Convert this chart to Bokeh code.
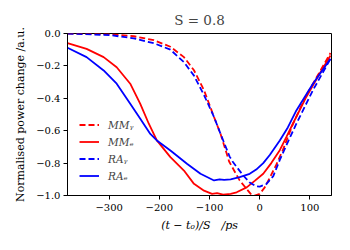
from bokeh.plotting import figure
from bokeh.models import Range1d, FixedTicker, CustomJSTickFormatter, Legend, LegendItem
from bokeh.embed import file_html
from bokeh.resources import INLINE

# ---- data ----
mm_e_x = [-383, -345, -311, -285, -258, -238, -221, -205, -178, -151, -131, -111, -95, -85, -73, -58, -46, -26, -10, 7, 23, 40, 53, 66, 93, 119, 141]
mm_e_y = [-0.06, -0.095, -0.146, -0.208, -0.31, -0.434, -0.557, -0.66, -0.763, -0.846, -0.928, -0.97, -0.99, -0.985, -0.995, -0.99, -0.98, -0.95, -0.91, -0.866, -0.80, -0.72, -0.64, -0.557, -0.39, -0.25, -0.136]

ra_e_x = [-383, -345, -311, -285, -258, -238, -218, -205, -178, -145, -118, -91, -80, -71, -58, -40, -20, -7, 7, 20, 40, 56, 73, 106, 141]
ra_e_y = [-0.088, -0.146, -0.228, -0.31, -0.434, -0.527, -0.62, -0.66, -0.722, -0.804, -0.866, -0.907, -0.90, -0.903, -0.90, -0.887, -0.866, -0.84, -0.80, -0.75, -0.66, -0.58, -0.475, -0.31, -0.156]

mm_g_x = [-383, -298, -251, -211, -178, -151, -131, -111, -91, -78, -61, -40, -26, -18, -10, 0, 10, 20, 33, 46, 66, 93, 119, 141]
mm_g_y = [0.0, -0.004, -0.017, -0.041, -0.082, -0.146, -0.227, -0.35, -0.516, -0.62, -0.79, -0.907, -0.96, -0.99, -1.0, -0.99, -0.95, -0.89, -0.81, -0.72, -0.56, -0.38, -0.24, -0.12]

ra_g_x = [-383, -298, -251, -211, -178, -151, -131, -111, -91, -78, -60, -53, -33, -20, -7, 0, 13, 27, 40, 56, 73, 106, 141]
ra_g_y = [0.0, -0.01, -0.03, -0.06, -0.10, -0.177, -0.26, -0.38, -0.516, -0.62, -0.76, -0.795, -0.876, -0.92, -0.944, -0.945, -0.93, -0.88, -0.78, -0.67, -0.557, -0.35, -0.156]

x_ticks = [-300, -200, -100, 0, 100]
y_ticks = [-1.0, -0.8, -0.6, -0.4, -0.2, 0.0]
legend_labels = ["MMᵧ", "MMₑ", "RAᵧ", "RAₑ"]

SERIF = "DejaVu Serif"

p = figure(width=334, height=234, x_range=Range1d(-383, 143), y_range=Range1d(-1.0, 0.0),
           output_backend="svg", toolbar_location=None,
           min_border_left=67, min_border_right=3, min_border_top=33, min_border_bottom=39)

p.title.text = "S = 0.8"
p.title.align = "center"
p.title.text_font = SERIF
p.title.text_font_size = "13.5px"
p.title.text_font_style = "normal"
p.title.standoff = 11

p.xgrid.visible = False
p.ygrid.visible = False
p.outline_line_color = "black"
p.outline_line_width = 1
p.outline_line_alpha = 1

for ax in (p.xaxis[0], p.yaxis[0]):
    ax.axis_line_color = "black"
    ax.major_tick_line_color = "black"
    ax.major_tick_out = 4
    ax.major_tick_in = 0
    ax.minor_tick_line_color = None
    ax.major_label_text_font = SERIF
    ax.major_label_text_font_size = "10px"
    ax.major_label_text_color = "black"
    ax.axis_label_text_font = SERIF
    ax.axis_label_text_font_size = "11px"
    ax.axis_label_text_font_style = "normal"
    ax.axis_label_text_color = "black"

p.xaxis.ticker = FixedTicker(ticks=x_ticks)
p.yaxis.ticker = FixedTicker(ticks=y_ticks)
p.xaxis.formatter = CustomJSTickFormatter(code="return (tick < -1e-9 ? '\u2212' : '') + Math.abs(tick).toFixed(0);")
p.yaxis.formatter = CustomJSTickFormatter(code="return (tick < -1e-9 ? '\u2212' : '') + Math.abs(tick).toFixed(1);")
p.xaxis.major_label_standoff = 4
p.yaxis.major_label_standoff = 3
p.xaxis.axis_label = "(t − t₀)/S\u2002\u2002/ps"
p.xaxis.axis_label_text_font_style = "italic"
p.yaxis.axis_label = "Normalised power change /a.u."
p.xaxis.axis_label_standoff = 5
p.yaxis.axis_label_standoff = 6

RED = "#ff0000"
BLUE = "#0000ff"
r1 = p.line(mm_g_x, mm_g_y, line_color=RED, line_width=1.8, line_dash="6 3")
r2 = p.line(mm_e_x, mm_e_y, line_color=RED, line_width=1.8)
r3 = p.line(ra_g_x, ra_g_y, line_color=BLUE, line_width=1.8, line_dash="6 3")
r4 = p.line(ra_e_x, ra_e_y, line_color=BLUE, line_width=1.8)

legend = Legend(items=[LegendItem(label=legend_labels[i], renderers=[r]) for i, r in enumerate([r1, r2, r3, r4])],
                location=(12, 11))
legend.border_line_color = None
legend.background_fill_color = "white"
legend.background_fill_alpha = 0.8
legend.label_text_font = SERIF
legend.label_text_font_style = "italic"
legend.label_text_font_size = "10.5px"
legend.glyph_width = 20
legend.glyph_height = 17
legend.spacing = 0
legend.padding = 2
legend.margin = 0
legend.label_standoff = 9
legend.label_height = 17
p.add_layout(legend)

open("out.html", "w").write(file_html(p, INLINE))
